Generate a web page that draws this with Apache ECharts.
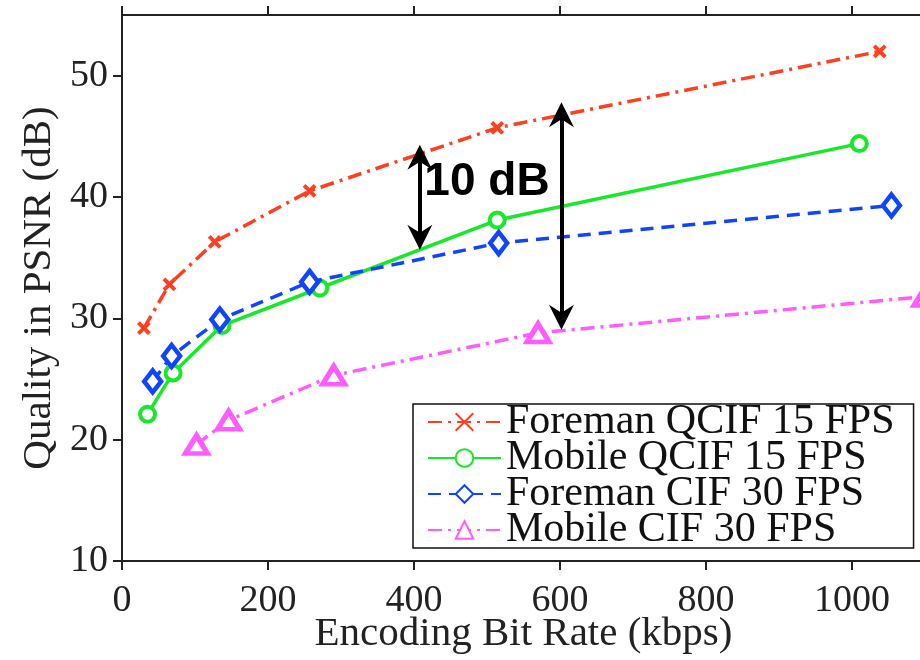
<!DOCTYPE html>
<html>
<head>
<meta charset="utf-8">
<script src="https://cdn.jsdelivr.net/npm/echarts@6/dist/echarts.min.js"></script>
<style>html,body{margin:0;padding:0;background:#fff}#c{width:920px;height:660px}</style>
</head>
<body>
<div id="c"></div>
<script>
// ---- data (kbps, PSNR dB) ----
var seriesNames = ['Foreman QCIF 15 FPS', 'Mobile QCIF 15 FPS', 'Foreman CIF 30 FPS', 'Mobile CIF 30 FPS'];
var foremanQcifX = [30, 65, 127, 257, 514, 1038];
var foremanQcifY = [29.2, 32.8, 36.3, 40.5, 45.7, 52.0];
var mobileQcifX = [35, 70, 137, 271, 514, 1010];
var mobileQcifY = [22.1, 25.5, 29.4, 32.5, 38.1, 44.4];
var foremanCifX = [42, 68, 134, 257, 516, 1054];
var foremanCifY = [24.8, 26.9, 29.9, 33.0, 36.2, 39.3];
var mobileCifX = [102, 146, 290, 570, 1100];
var mobileCifY = [19.6, 21.6, 25.3, 28.8, 31.8];
var xTicks = [0, 200, 400, 600, 800, 1000];
var yTicks = [10, 20, 30, 40, 50];
// annotation: double arrows (x, yTop, yBottom: centres of the arrow heads) and label
var arrows = [[408, 43.27, 36.68], [602, 46.77, 30.08]];
var annotText = '10 dB';
var annotPos = [500, 41.2];

function pairs(xs, ys) { return xs.map(function (x, i) { return [x, ys[i]]; }); }

var serif = 'Liberation Serif';
var axisCol = '#222';
var chart = echarts.init(document.getElementById('c'), null, { renderer: 'canvas' });

var xBase = {
  type: 'value', min: 0, max: 1100, interval: 200,
  splitLine: { show: false },
  axisLine: { show: true, lineStyle: { color: axisCol, width: 2 } },
  axisTick: { show: true, length: 9, lineStyle: { color: axisCol, width: 2 }, customValues: xTicks }
};
var plain = function (v) { return String(v); };
var arrowHead = 'path://M0 0L12 25L0 17L-12 25Z';

var option = {
  animation: false,
  backgroundColor: '#fff',
  grid: { left: 122, top: 15, width: 803, bottom: 99, containLabel: false, outerBoundsMode: 'none' },
  xAxis: [
    Object.assign({}, xBase, {
      position: 'bottom',
      name: 'Encoding Bit Rate (kbps)', nameLocation: 'middle', nameGap: 53, nameMoveOverlap: false,
      nameTextStyle: { fontFamily: serif, fontSize: 41, color: axisCol },
      axisLabel: { show: true, customValues: xTicks, formatter: plain, margin: 21, fontFamily: serif, fontSize: 38, color: axisCol }
    }),
    Object.assign({}, xBase, {
      position: 'top',
      axisLabel: { show: false }
    })
  ],
  yAxis: {
    type: 'value', min: 10, max: 55, interval: 10,
    name: 'Quality in PSNR (dB)', nameLocation: 'middle', nameGap: 62, nameMoveOverlap: false,
    nameTextStyle: { fontFamily: serif, fontSize: 41, color: axisCol },
    splitLine: { show: false },
    axisLine: { show: true, lineStyle: { color: axisCol, width: 2 } },
    axisTick: { show: true, length: 9, lineStyle: { color: axisCol, width: 2 }, customValues: yTicks },
    axisLabel: { customValues: yTicks, formatter: plain, margin: 14, fontFamily: serif, fontSize: 38, color: axisCol }
  },
  legend: {
    orient: 'vertical', left: 413, top: 404,
    data: seriesNames,
    backgroundColor: '#fff',
    borderColor: '#111', borderWidth: 1.5,
    padding: [-3, 19, -3, 14],
    itemGap: -6, itemWidth: 73, itemHeight: 22,
    textStyle: { fontFamily: serif, fontSize: 42, color: '#111' }
  },
  series: [
    {
      name: seriesNames[0], type: 'line', data: pairs(foremanQcifX, foremanQcifY),
      color: '#ff4020',
      symbol: 'path://M0 0L10 10M10 0L0 10', symbolSize: 11,
      itemStyle: { color: '#ff4020', borderColor: '#ff4020', borderWidth: 4 },
      lineStyle: { color: '#ff4020', width: 3.5, type: [14, 6, 3, 6] },
      z: 3,
      markLine: {
        silent: true, animation: false,
        symbol: [arrowHead, arrowHead], symbolSize: 25,
        lineStyle: { color: '#000', width: 4, type: 'solid' },
        itemStyle: { color: '#000' },
        label: { show: false },
        emphasis: { disabled: true },
        data: arrows.map(function (a) { return [{ coord: [a[0], a[1]] }, { coord: [a[0], a[2]] }]; })
      },
      markPoint: {
        silent: true, animation: false,
        symbol: 'circle', symbolSize: 1,
        itemStyle: { color: 'rgba(0,0,0,0)' },
        label: { show: true, position: 'inside', formatter: annotText, fontFamily: 'Liberation Sans', fontWeight: 'bold', fontSize: 46, color: '#000' },
        data: [{ coord: annotPos }]
      }
    },
    {
      name: seriesNames[1], type: 'line', data: pairs(mobileQcifX, mobileQcifY),
      color: '#18e82a',
      symbol: 'circle', symbolSize: 15,
      itemStyle: { color: '#ffffff', borderColor: '#18e82a', borderWidth: 4 },
      lineStyle: { color: '#18e82a', width: 3.5, type: 'solid' },
      z: 2
    },
    {
      name: seriesNames[2], type: 'line', data: pairs(foremanCifX, foremanCifY),
      color: '#1044ff',
      symbol: 'diamond', symbolSize: [17, 22],
      itemStyle: { color: '#ffffff', borderColor: '#1044ff', borderWidth: 4.5 },
      lineStyle: { color: '#1044ff', width: 3.5, type: [13, 8] },
      z: 4
    },
    {
      name: seriesNames[3], type: 'line', data: pairs(mobileCifX, mobileCifY),
      color: '#ff5cff',
      symbol: 'triangle', symbolSize: [22, 18],
      itemStyle: { color: '#ffffff', borderColor: '#ff5cff', borderWidth: 5 },
      lineStyle: { color: '#ff5cff', width: 3.5, type: [14, 6, 3, 6] },
      z: 2
    }
  ]
};
chart.setOption(option);
</script>
</body>
</html>
